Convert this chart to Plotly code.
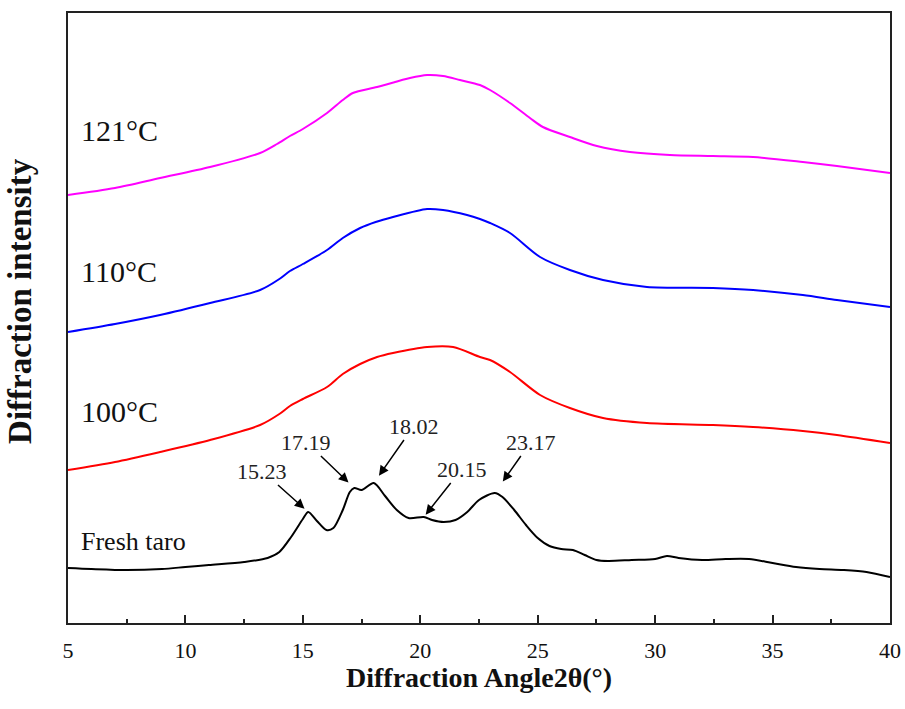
import numpy as np
import plotly.graph_objects as go

# ---- data (arbitrary intensity units, offset-stacked curves) ----
fresh_x = [5, 6, 7.5, 9, 10, 11, 12.5, 13.5, 14, 14.5, 15, 15.23, 15.6, 16, 16.3, 16.7, 17, 17.19,
           17.5, 18.02, 18.5, 19, 19.5, 20.15, 20.5, 21, 21.5, 22, 22.5, 23.17, 23.5, 24, 24.5, 25,
           25.5, 26, 26.5, 27, 27.5, 28, 29, 30, 30.5, 31, 32, 33, 34, 35, 36, 37, 38, 39, 40]
fresh_row = [568, 569, 570, 569, 567, 565, 562, 558, 552, 537, 519, 512, 521, 530, 528, 510, 492, 488,
             490, 483, 496, 510, 518, 517, 520, 522, 520, 512, 500, 493, 497, 510, 525, 538,
             546, 549, 550, 555, 560, 561, 560, 559, 556, 558, 560, 559, 559, 563, 567, 569, 570, 572, 577]
fresh_y = [623 - r for r in fresh_row]

t100_x = [5, 7, 8.92, 11.05, 13.18, 14.0, 14.45, 15, 16.03, 16.7, 17.44, 18.16, 18.84, 20.29,
          21.4, 22.54, 22.97, 23.82, 25.1, 26.37, 27.78, 29.65, 32.46, 34.17, 36.29, 37.74, 40]
t100_row = [470, 462, 452, 440, 425, 414, 406, 399, 387, 374, 364, 357, 353, 347,
            347, 357, 360, 372, 395, 408, 418, 423, 425, 427, 431, 435, 443]
t100_y = [623 - r for r in t100_row]

t110_x = [5, 7, 8.92, 11.05, 13.18, 14.0, 14.45, 15, 16.03, 16.7, 17.44, 18.1, 18.84, 20.29,
          20.97, 21.99, 22.54, 22.97, 23.82, 25.1, 26.37, 27.78, 29.65, 32.46, 34.17, 36.29, 37.74, 40]
t110_row = [332, 324, 315, 303, 290, 279, 271, 264, 250, 238, 228, 222, 217, 209,
            210, 215, 219, 223, 233, 257, 270, 280, 287, 288, 290, 295, 300, 307]
t110_y = [623 - r for r in t110_row]

t121_x = [5, 7, 8.92, 11.05, 13.18, 13.9, 14.45, 15, 16.03, 16.7, 17.13, 18.16, 19.56, 20.29,
          20.97, 21.69, 22.54, 22.97, 23.82, 24.67, 25.22, 26.37, 27.52, 28.93, 30.63, 32.46, 34.17,
          36.29, 37.74, 40]
t121_row = [195, 188, 178, 167, 153, 144, 136, 129, 113, 100, 93, 87, 78, 75,
            76, 80, 85, 90, 103, 118, 127, 137, 146, 152, 155, 156, 157,
            162, 166, 173]
t121_y = [623 - r for r in t121_row]

peak_labels = ["15.23", "17.19", "18.02", "20.15", "23.17"]
peak_pos = [15.23, 17.19, 18.02, 20.15, 23.17]
x_ticks = [5, 10, 15, 20, 25, 30, 35, 40]

FONT = "Liberation Serif"

fig = go.Figure()
for xs, ys, col in [(fresh_x, fresh_y, "#000000"), (t100_x, t100_y, "#FF0000"),
                    (t110_x, t110_y, "#0000FF"), (t121_x, t121_y, "#FF00FF")]:
    fig.add_trace(go.Scatter(x=xs, y=ys, mode="lines",
                             line=dict(color=col, width=2, shape="spline", smoothing=0.8),
                             showlegend=False, hoverinfo="skip"))

# peak arrows
offsets = [(-46, -41, 5), (-48, -46, 8), (40, -57, 9), (38, -48, 3), (36, -51, 14)]
for lab, px, (ax, ay, so) in zip(peak_labels, peak_pos, offsets):
    py = float(np.interp(px, fresh_x, fresh_y))
    fig.add_annotation(x=px, y=py, xref="x", yref="y", text=lab, showarrow=True,
                       ax=ax, ay=ay, arrowhead=2, arrowsize=1.3, arrowwidth=1.5,
                       arrowcolor="#000000", standoff=so,
                       font=dict(family=FONT, size=22, color="#222222"))

# sample labels
for txt, yy, sz in [("121°C", 0.808, 30), ("110°C", 0.577, 30), ("100°C", 0.346, 30),
                    ("Fresh taro", 0.134, 26)]:
    fig.add_annotation(x=0.013, y=yy, xref="paper", yref="paper", text=txt, showarrow=False,
                       xanchor="left", yanchor="middle",
                       font=dict(family=FONT, size=sz, color="#111111"))

# axis titles
fig.add_annotation(x=-0.0584, y=0.528, xref="paper", yref="paper",
                   text="<b>Diffraction intensity</b>", showarrow=False, textangle=-90,
                   xanchor="center", yanchor="middle",
                   font=dict(family=FONT, size=33, color="#111111"))
fig.add_annotation(x=0.5, y=-0.090, xref="paper", yref="paper",
                   text="<b>Diffraction Angle2θ(°)</b>", showarrow=False,
                   xanchor="center", yanchor="middle",
                   font=dict(family=FONT, size=28, color="#111111"))

fig.update_layout(
    width=905, height=709,
    margin=dict(l=68, r=15, t=13, b=86, autoexpand=False),
    paper_bgcolor="white", plot_bgcolor="white",
    xaxis=dict(range=[5, 40], tickvals=x_ticks, ticks="inside", ticklen=8, tickwidth=2,
               tickcolor="#222222", showgrid=False, zeroline=False, automargin=False,
               showline=True, linecolor="#222222", linewidth=2, mirror=True,
               tickfont=dict(family=FONT, size=22, color="#111111"),
               ticklabelstandoff=7,
               minor=dict(ticks="inside", ticklen=4, tickwidth=2, tickcolor="#222222",
                          tick0=5, dtick=2.5, showgrid=False)),
    yaxis=dict(range=[0, 610], showticklabels=False, ticks="", showgrid=False, zeroline=False,
               automargin=False,
               showline=True, linecolor="#222222", linewidth=2, mirror=True),
)

fig.write_html("out.html")
